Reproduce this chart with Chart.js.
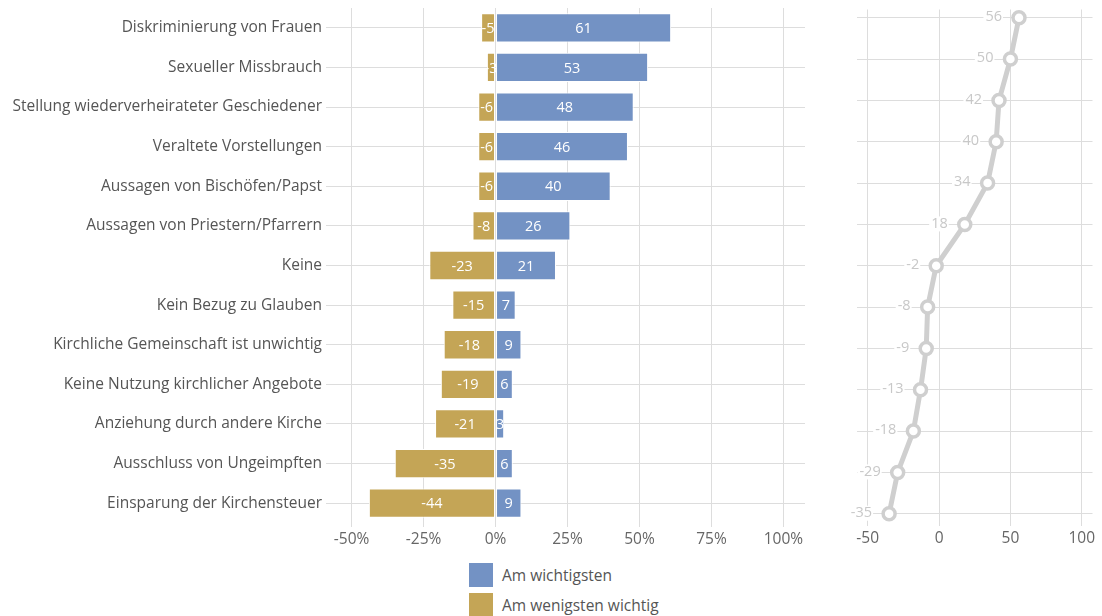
<!DOCTYPE html>
<html lang="de">
<head>
  <meta charset="UTF-8">
  <title>Gründe</title>
  <script src="https://cdn.jsdelivr.net/npm/chart.js@4.4.0/dist/chart.umd.min.js"></script>
  <style>
    body {
      margin: 0;
      background: #fff;
      font-family: "Open Sans", sans-serif;
    }

    #wrap {
      position: relative;
      width: 1102px;
      height: 616px;
      overflow: hidden;
    }

    #barChart {
      position: absolute;
      left: 0;
      top: 0;
    }

    #lineChart {
      position: absolute;
      left: 840px;
      top: 0;
    }

    #legend {
      position: absolute;
      left: 469px;
      top: 563px;
    }

    .item {
      display: flex;
      align-items: center;
      height: 24px;
      margin-bottom: 6px;
      font-size: 15.5px;
      color: #555;
    }

    .sw {
      width: 24px;
      height: 24px;
      margin-right: 9px;
    }
  </style>
</head>

<body>
  <div id="wrap">
    <canvas id="barChart" width="810" height="560"></canvas>
    <canvas id="lineChart" width="262" height="560"></canvas>
    <div id="legend"></div>
  </div>

  <script>
    const categories = [
      'Diskriminierung von Frauen',
      'Sexueller Missbrauch',
      'Stellung wiederverheirateter Geschiedener',
      'Veraltete Vorstellungen',
      'Aussagen von Bischöfen/Papst',
      'Aussagen von Priestern/Pfarrern',
      'Keine',
      'Kein Bezug zu Glauben',
      'Kirchliche Gemeinschaft ist unwichtig',
      'Keine Nutzung kirchlicher Angebote',
      'Anziehung durch andere Kirche',
      'Ausschluss von Ungeimpften',
      'Einsparung der Kirchensteuer'
    ];
    const wichtig = [61, 53, 48, 46, 40, 26, 21, 7, 9, 6, 3, 6, 9];
    const unwichtig = [-5, -3, -6, -6, -6, -8, -23, -15, -18, -19, -21, -35, -44];
    const saldo = [56, 50, 42, 40, 34, 18, -2, -8, -9, -13, -18, -29, -35];
    const barTicks = [-50, -25, 0, 25, 50, 75, 100];
    const lineTicks = [-50, 0, 50, 100];

    const BLUE = '#7392c4';
    const GOLD = '#c4a556';
    const GRID = '#dddddd';
    const FONT = '"Open Sans"';

    // legend (html, two rows)
    const legendItems = [['Am wichtigsten', BLUE], ['Am wenigsten wichtig', GOLD]];
    document.getElementById('legend').innerHTML = legendItems
      .map(l => `<div class="item"><span class="sw" style="background:${l[1]}"></span>${l[0]}</div>`)
      .join('');

    // no extra label padding, so the plot area stays where it is set
    const noPad = s => { s.paddingTop = 0; s.paddingBottom = 0; s.paddingLeft = 0; s.paddingRight = 0; };

    // white numbers inside the bars
    const barLabels = {
      id: 'barLabels',
      afterDatasetsDraw(chart) {
        const ctx = chart.ctx;
        ctx.save();
        ctx.font = `14.5px ${FONT}`;
        ctx.fillStyle = '#fff';
        ctx.textAlign = 'center';
        ctx.textBaseline = 'middle';
        chart.data.datasets.forEach((ds, i) => {
          chart.getDatasetMeta(i).data.forEach((bar, j) => {
            ctx.fillText(ds.data[j], (bar.x + bar.base) / 2, bar.y + 1);
          });
        });
        ctx.restore();
      }
    };

    // grey value labels left of the points
    const pointLabels = {
      id: 'pointLabels',
      afterDatasetsDraw(chart) {
        const ctx = chart.ctx;
        ctx.save();
        ctx.font = `14.5px ${FONT}`;
        ctx.textAlign = 'right';
        ctx.textBaseline = 'middle';
        chart.getDatasetMeta(0).data.forEach((pt, j) => {
          const txt = String(saldo[j]);
          const w = ctx.measureText(txt).width;
          const x = pt.x - 17;
          ctx.fillStyle = '#fff';
          ctx.fillRect(x - w - 2, pt.y - 8, w + 3, 15);
          ctx.fillStyle = '#c8c8c8';
          ctx.fillText(txt, x, pt.y - 1);
        });
        ctx.restore();
      }
    };

    new Chart(document.getElementById('barChart'), {
      type: 'bar',
      data: {
        labels: categories,
        datasets: [
          {
            label: 'Am wichtigsten',
            data: wichtig,
            backgroundColor: BLUE,
            borderColor: '#fff',
            borderWidth: 1,
            borderSkipped: false
          },
          {
            label: 'Am wenigsten wichtig',
            data: unwichtig,
            backgroundColor: GOLD,
            borderColor: '#fff',
            borderWidth: 1,
            borderSkipped: false
          }
        ]
      },
      options: {
        responsive: false,
        animation: false,
        indexAxis: 'y',
        categoryPercentage: 1,
        barPercentage: 0.74,
        layout: { padding: { top: 8, right: 5, left: 0, bottom: 0 } },
        plugins: { legend: { display: false }, tooltip: { enabled: false } },
        scales: {
          x: {
            stacked: true,
            min: -57.5,
            max: 107.5,
            afterBuildTicks: s => { s.ticks = barTicks.map(v => ({ value: v })); },
            afterFit: s => { s.height = 37; noPad(s); },
            grid: { color: GRID, lineWidth: 1, tickLength: 4 },
            border: { display: false },
            ticks: {
              padding: 3,
              color: '#666',
              font: { family: FONT, size: 15.5 },
              callback: v => v + '%'
            }
          },
          y: {
            stacked: true,
            afterFit: s => { s.width = 330; noPad(s); },
            grid: { color: GRID, lineWidth: 1, tickLength: 4, offset: false },
            border: { display: false },
            ticks: {
              padding: 4,
              color: '#555',
              font: { family: FONT, size: 15.5 }
            }
          }
        }
      },
      plugins: [barLabels]
    });

    new Chart(document.getElementById('lineChart'), {
      type: 'line',
      data: {
        datasets: [{
          data: saldo.map((v, i) => ({ x: v, y: i })),
          borderColor: '#cfcfcf',
          borderWidth: 5,
          pointRadius: 6,
          pointBorderWidth: 3.5,
          pointBackgroundColor: '#fff',
          pointBorderColor: '#cfcfcf'
        }]
      },
      options: {
        responsive: false,
        animation: false,
        layout: { padding: { top: 8, right: 7, left: 17, bottom: 0 } },
        plugins: { legend: { display: false }, tooltip: { enabled: false } },
        scales: {
          x: {
            type: 'linear',
            min: -57.5,
            max: 107.5,
            afterBuildTicks: s => { s.ticks = lineTicks.map(v => ({ value: v })); },
            afterFit: s => { s.height = 38; noPad(s); },
            grid: { color: GRID, lineWidth: 1, tickLength: 4 },
            border: { display: false },
            ticks: {
              padding: 3,
              color: '#666',
              font: { family: FONT, size: 15.5 }
            }
          },
          y: {
            type: 'linear',
            reverse: true,
            min: -0.2,
            max: categories.length - 0.8,
            afterBuildTicks: s => { s.ticks = categories.map((c, i) => ({ value: i })); },
            afterFit: s => { s.width = 0; noPad(s); },
            grid: { color: GRID, lineWidth: 1, drawTicks: false },
            border: { display: false },
            ticks: { display: false }
          }
        }
      },
      plugins: [pointLabels]
    });
  </script>
</body>

</html>
